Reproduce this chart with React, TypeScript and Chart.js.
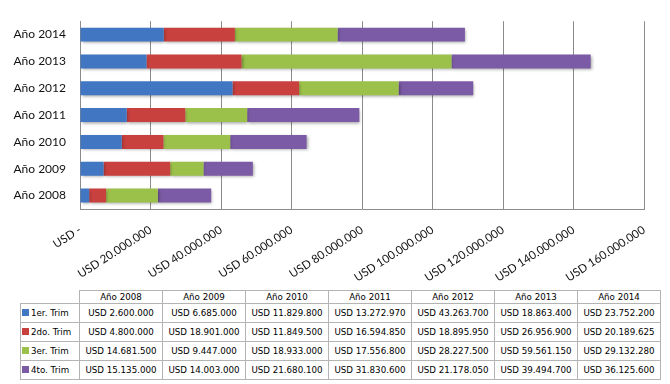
import React, { useEffect, useRef } from 'react';
import { Chart, registerables } from 'chart.js';

Chart.register(...registerables);

const categories = ['Año 2008', 'Año 2009', 'Año 2010', 'Año 2011', 'Año 2012', 'Año 2013', 'Año 2014'];
const seriesNames = ['1er. Trim', '2do. Trim', '3er. Trim', '4to. Trim'];
const trim1 = [2600000, 6685000, 11829800, 13272970, 43263700, 18863400, 23752200];
const trim2 = [4800000, 18901000, 11849500, 16594850, 18895950, 26956900, 20189625];
const trim3 = [14681500, 9447000, 18933000, 17556800, 28227500, 59561150, 29132280];
const trim4 = [15135000, 14003000, 21680100, 31830600, 21178050, 39494700, 36125600];
const seriesValues = [trim1, trim2, trim3, trim4];
const seriesColors = ['#4177c2', '#c9413f', '#9cc14a', '#7c5ba6'];
const xMin = 0;
const xMax = 160000000;
const xStep = 20000000;

const CANVAS_W = 670;
const CANVAS_H = 283;

function fmt(v: number): string {
  return Math.round(v).toString().replace(/\B(?=(\d{3})+(?!\d))/g, '.');
}
function usd(v: number): string {
  return v === 0 ? 'USD -' : 'USD ' + fmt(v);
}

const shadowPlugin = {
  id: 'barShadow',
  beforeDatasetsDraw(chart: any) {
    const c = chart.ctx;
    c.save();
    c.shadowColor = 'rgba(0,0,0,0.35)';
    c.shadowBlur = 3;
    c.shadowOffsetX = 1;
    c.shadowOffsetY = 1.5;
  },
  afterDatasetsDraw(chart: any) {
    chart.ctx.restore();
  },
};

function ChartCanvas() {
  const ref = useRef<HTMLCanvasElement | null>(null);
  useEffect(() => {
    if (!ref.current) return;
    const chart = new Chart(ref.current, {
      type: 'bar',
      data: {
        labels: categories,
        datasets: seriesNames.map((name, i) => ({
          label: name,
          data: seriesValues[i],
          backgroundColor: seriesColors[i],
          borderWidth: 0,
          barPercentage: 0.52,
          categoryPercentage: 1,
        })),
      },
      options: {
        indexAxis: 'y',
        responsive: false,
        animation: false,
        devicePixelRatio: 1,
        layout: { padding: { top: 6, right: 26, left: 0, bottom: 0 } },
        plugins: {
          legend: { display: false },
          tooltip: { enabled: false },
        },
        scales: {
          x: {
            stacked: true,
            min: xMin,
            max: xMax,
            afterFit: (s: any) => { s.height = CANVAS_H - 209; },
            ticks: {
              stepSize: xStep,
              minRotation: 33,
              maxRotation: 33,
              padding: 14,
              color: '#111',
              font: { family: 'Lato', size: 11.5 },
              callback: (v: any) => usd(Number(v)),
            },
            grid: { color: '#8c8c8c', drawTicks: false, lineWidth: 1 },
            border: { display: true, color: '#8c8c8c' },
          },
          y: {
            stacked: true,
            reverse: true,
            afterFit: (s: any) => { s.width = 80; },
            ticks: {
              padding: 14,
              color: '#111',
              font: { family: 'Lato', size: 12 },
            },
            grid: { display: false, drawTicks: false },
            border: { display: true, color: '#8c8c8c' },
          },
        },
      },
      plugins: [shadowPlugin],
    } as any);
    return () => chart.destroy();
  }, []);
  return (
    <canvas
      ref={ref}
      width={CANVAS_W}
      height={CANVAS_H}
      style={{ display: 'block', width: CANVAS_W, height: CANVAS_H }}
    />
  );
}

const cellBorder = '1px solid #b4b4b4';

function DataTable() {
  const base: React.CSSProperties = {
    border: cellBorder,
    padding: 0,
    textAlign: 'center',
    whiteSpace: 'nowrap',
    overflow: 'hidden',
  };
  return (
    <table
      style={{
        position: 'absolute',
        left: 20,
        top: 290,
        borderCollapse: 'collapse',
        tableLayout: 'fixed',
        width: 640,
        fontFamily: '"DejaVu Sans", sans-serif',
        fontSize: 8.7,
        color: '#000',
      }}
    >
      <colgroup>
        <col style={{ width: 59 }} />
        {categories.map((c) => (
          <col key={c} style={{ width: 83 }} />
        ))}
      </colgroup>
      <tbody>
        <tr style={{ height: 13 }}>
          <td style={{ padding: 0, border: 'none' }}></td>
          {categories.map((c) => (
            <td key={c} style={base}>{c}</td>
          ))}
        </tr>
        {seriesNames.map((name, i) => (
          <tr key={name} style={{ height: 19 }}>
            <td style={{ ...base, textAlign: 'left', paddingLeft: 1 }}>
              <span
                style={{
                  display: 'inline-block',
                  width: 7,
                  height: 7,
                  background: seriesColors[i],
                  marginRight: 2,
                  verticalAlign: 'middle',
                  position: 'relative',
                  top: -1,
                }}
              />
              {name}
            </td>
            {seriesValues[i].map((v, j) => (
              <td key={j} style={base}>{usd(v)}</td>
            ))}
          </tr>
        ))}
      </tbody>
    </table>
  );
}

export default function App() {
  return (
    <div style={{ position: 'absolute', left: 0, top: 0, width: 670, height: 384, background: '#fff' }}>
      <ChartCanvas />
      <DataTable />
    </div>
  );
}
